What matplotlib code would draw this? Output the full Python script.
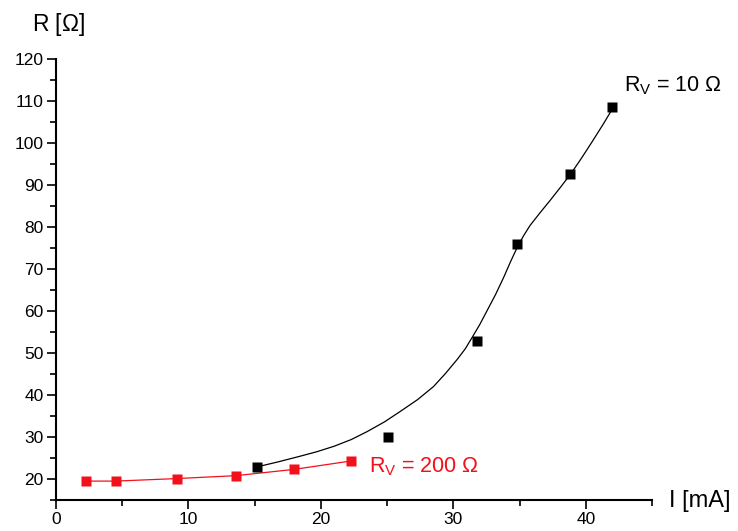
import matplotlib
matplotlib.use('Agg')
import matplotlib.pyplot as plt
from matplotlib.ticker import MultipleLocator

plt.rcParams['font.family'] = ['Liberation Sans', 'DejaVu Sans']
plt.rcParams['mathtext.default'] = 'regular'

# measured points, R_V = 200 Ohm (red)
I_200 = [2.3, 4.5, 9.1, 13.6, 18.0, 22.3]
R_200 = [19.5, 19.5, 20.1, 20.8, 22.3, 24.3]

# measured points, R_V = 10 Ohm (black)
I_10 = [15.2, 25.1, 31.8, 34.8, 38.8, 42.0]
R_10 = [22.9, 29.9, 52.8, 76.0, 92.7, 108.6]

# fit curve for R_V = 10 Ohm
fit_I = [15.2, 16.8, 18.4, 19.7, 21.0, 22.3, 23.5, 24.8, 26.0, 27.3, 28.5,
         29.4, 30.3, 30.9, 31.4, 32.0, 32.55, 33.2, 33.8, 34.3, 34.8, 35.3,
         35.8, 36.6, 37.3, 38.1, 38.9, 39.7, 40.5, 41.3, 42.1]
fit_R = [22.9, 24.1, 25.4, 26.5, 27.8, 29.4, 31.3, 33.6, 36.1, 38.9, 42.0,
         45.1, 48.5, 51.0, 53.6, 56.8, 60.1, 64.0, 68.0, 71.6, 75.0, 77.9,
         80.4, 83.6, 86.3, 89.5, 92.8, 96.5, 100.4, 104.4, 108.6]

red = '#f2101a'

fig = plt.figure(figsize=(7.38, 5.31), dpi=100)
ax = fig.add_axes([56/738, 1 - 500/531, (652 - 56)/738, (500 - 59)/531])

ax.plot(fit_I, fit_R, color='black', lw=0.9, zorder=2)
ax.plot(I_200, R_200, color=red, lw=0.9, zorder=2)
ax.plot(I_10, R_10, 's', color='black', ms=6.5, mec='none', zorder=3)
ax.plot(I_200, R_200, 's', color=red, ms=6.5, mec='none', zorder=3)

ax.set_xlim(0, 45)
ax.set_ylim(15, 120)
ax.xaxis.set_major_locator(MultipleLocator(10))
ax.xaxis.set_minor_locator(MultipleLocator(5))
ax.yaxis.set_minor_locator(MultipleLocator(5))
ax.set_yticks(list(range(20, 121, 10)))

for side in ['top', 'right']:
    ax.spines[side].set_visible(False)
for side in ['left', 'bottom']:
    ax.spines[side].set_linewidth(1.5)

ax.tick_params(which='major', direction='out', length=6.5, width=1.2,
               labelsize=12.5, pad=2.5)
ax.tick_params(which='minor', direction='out', length=4.5, width=1.2)

ax.text(42.85, 112.4, r'R$_V$ = 10 $\Omega$', fontsize=15.5, color='black',
        va='baseline', ha='left')
ax.text(23.65, 21.6, r'R$_V$ = 200 $\Omega$', fontsize=15.5, color=red,
        va='baseline', ha='left')

fig.text(32/738, 1 - 24/531, r'R [$\Omega$]', fontsize=16.5, ha='left',
         va='center')
fig.text(669/738, 1 - 501/531, 'I [mA]', fontsize=17, ha='left',
         va='center')

fig.savefig('out.png', dpi=100)
